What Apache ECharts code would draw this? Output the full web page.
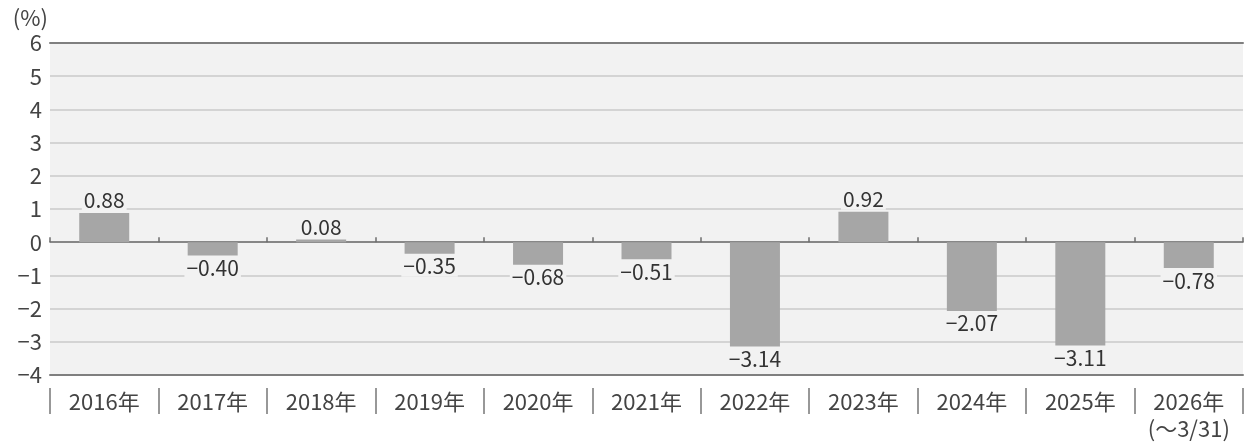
<!DOCTYPE html>
<html><head><meta charset="utf-8">
<script src="https://cdn.jsdelivr.net/npm/echarts@6/dist/echarts.min.js"></script>
<style>html,body{margin:0;padding:0;background:#fff}#c{width:1251px;height:444px}</style>
</head><body><div id="c"></div>
<script>
var categories = ['2016年','2017年','2018年','2019年','2020年','2021年','2022年','2023年','2024年','2025年','2026年\n(～3/31)'];
var values = [0.88, -0.40, 0.08, -0.35, -0.68, -0.51, -3.14, 0.92, -2.07, -3.11, -0.78];
var yMin = -4, yMax = 6, yStep = 1;

var FONT = '"Noto Sans CJK JP", "Noto Sans", sans-serif';
var TXT = '#444';
function fmt(v){ return (v < 0 ? '\u2212' + Math.abs(v).toFixed(2) : v.toFixed(2)); }

var chart = echarts.init(document.getElementById('c'));
chart.setOption({
  animation: false,
  grid: { left: 50, right: 8, top: 43, bottom: 69, show: true, backgroundColor: '#f2f2f2', borderWidth: 0 },
  xAxis: [
    { type: 'category', data: categories, position: 'bottom',
      axisLine: { onZero: true, lineStyle: { color: '#6e6e6e', width: 1.5 } },
      axisTick: { show: true, inside: true, length: 5, lineStyle: { color: '#6e6e6e', width: 1.5 } },
      axisLabel: { show: false }, splitLine: { show: false } },
    { type: 'category', data: categories, position: 'bottom', gridIndex: 0,
      axisLine: { onZero: false, lineStyle: { color: '#7f7f7f', width: 2 } },
      axisTick: { show: false },
      axisLabel: { show: true, margin: 13, color: TXT, fontSize: 22, fontFamily: FONT, lineHeight: 27 } },
    { type: 'category', data: categories, position: 'top',
      axisLine: { onZero: false, lineStyle: { color: '#7f7f7f', width: 2 } },
      axisTick: { show: false }, axisLabel: { show: false } },
    { type: 'category', data: categories, position: 'bottom', offset: 13,
      axisLine: { show: false, onZero: false },
      axisTick: { show: true, length: 26, lineStyle: { color: '#777', width: 1.5 } },
      axisLabel: { show: false } }
  ],
  yAxis: {
    type: 'value', min: yMin, max: yMax, interval: yStep,
    name: '(%)', nameLocation: 'end', nameGap: 14,
    nameTextStyle: { color: TXT, fontSize: 22, fontFamily: FONT, align: 'right', padding: [0, 2, 0, 0] },
    axisLine: { show: false }, axisTick: { show: false },
    axisLabel: { color: TXT, fontSize: 22, fontFamily: FONT, margin: 8,
      formatter: function(v){ return v < 0 ? '\u2212' + Math.abs(v) : String(v); } },
    splitLine: { show: true, lineStyle: { color: '#d4d4d4', width: 2 } }
  },
  series: [{
    type: 'bar', xAxisIndex: 0, data: values.map(function(v){
      return { value: v, label: { position: v >= 0 ? 'top' : 'bottom' } };
    }),
    barWidth: 50,
    itemStyle: { color: '#a6a6a6' },
    label: { show: true, color: '#333', fontSize: 21, fontFamily: FONT, distance: 2,
      backgroundColor: '#f2f2f2', padding: [0, 2, 0, 2],
      formatter: function(p){ return fmt(p.value); } }
  }]
});
</script></body></html>
